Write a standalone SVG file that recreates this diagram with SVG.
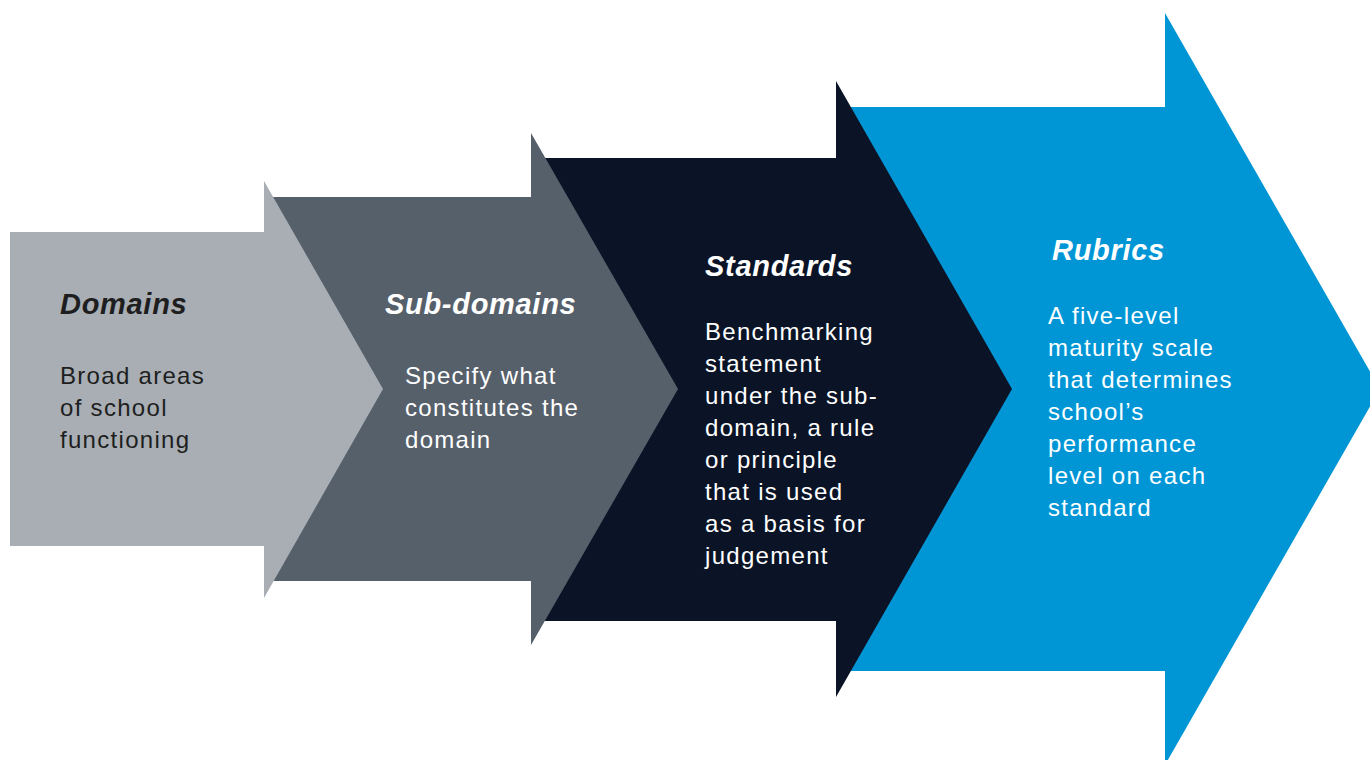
<svg xmlns="http://www.w3.org/2000/svg" width="1370" height="760" viewBox="0 0 1370 760">
<style>
.h{font-family:"Liberation Sans",Arial,sans-serif;font-weight:bold;font-style:italic;font-size:29px;letter-spacing:0.7px;}
.b{font-family:"Liberation Sans",Arial,sans-serif;font-size:24px;letter-spacing:1.3px;}
.w{fill:#ffffff;}
.k{fill:#1e1e20;}
</style>
<rect width="1370" height="760" fill="#ffffff"/>
<g id="rubrics">
<polygon points="840,107 1165,107 1165,13 1380,389 1165,765 1165,671 840,671" fill="#0096d6"/>
<text class="h w" x="1052" y="260">Rubrics</text>
<text class="b w"><tspan x="1048" y="324">A five-level</tspan><tspan x="1048" y="356">maturity scale</tspan><tspan x="1048" y="388">that determines</tspan><tspan x="1048" y="420">school’s</tspan><tspan x="1048" y="452">performance</tspan><tspan x="1048" y="484">level on each</tspan><tspan x="1048" y="516">standard</tspan></text>
</g>
<g id="standards">
<polygon points="536,158 836,158 836,81 1012,389 836,697 836,621 536,621" fill="#0a1426"/>
<text class="h w" x="705" y="276">Standards</text>
<text class="b w"><tspan x="705" y="340">Benchmarking</tspan><tspan x="705" y="372">statement</tspan><tspan x="705" y="404">under the sub-</tspan><tspan x="705" y="436">domain, a rule</tspan><tspan x="705" y="468">or principle</tspan><tspan x="705" y="500">that is used</tspan><tspan x="705" y="532">as a basis for</tspan><tspan x="705" y="564">judgement</tspan></text>
</g>
<g id="subdomains">
<polygon points="268,197 531,197 531,133 678,389 531,645 531,581 268,581" fill="#56606b"/>
<text class="h w" x="385" y="314">Sub-domains</text>
<text class="b w"><tspan x="405" y="384">Specify what</tspan><tspan x="405" y="416">constitutes the</tspan><tspan x="405" y="448">domain</tspan></text>
</g>
<g id="domains">
<polygon points="10,232 264,232 264,181 383,389 264,598 264,546 10,546" fill="#a8aeb4"/>
<text class="h k" x="60" y="314">Domains</text>
<text class="b k"><tspan x="60" y="384">Broad areas</tspan><tspan x="60" y="416">of school</tspan><tspan x="60" y="448">functioning</tspan></text>
</g>
<g id="connectors"></g>
</svg>
